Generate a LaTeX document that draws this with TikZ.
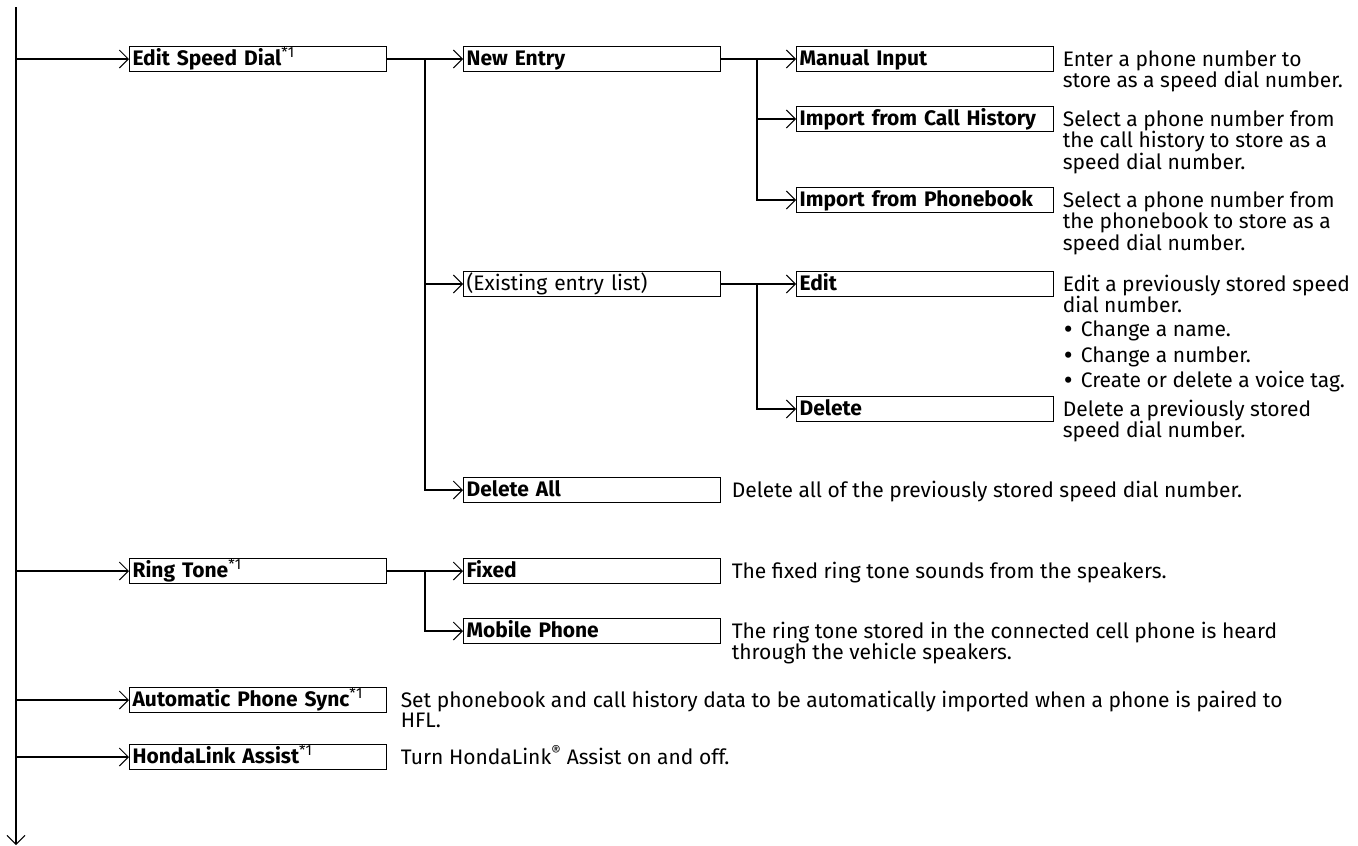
\documentclass[tikz,border=0pt]{standalone}
\usepackage{fontspec}
\setmainfont{Fira Sans}
\usetikzlibrary{arrows.meta}
\newcommand\sone{\textsuperscript{\mdseries *1}}
\newcommand\dtext[1]{\parbox[t]{300pt}{\raggedright #1}}
\newcommand\bul{\makebox[18pt][l]{\hspace{1pt}\smash{\raisebox{-2pt}{\scalebox{1.3}{•}}}}}
\begin{document}
\begin{tikzpicture}[x=1pt,y=-1pt,
  font=\fontsize{21}{20}\selectfont,
  line width=1.6pt,
  link/.style={-{Straight Barb[length=9pt,width=18pt,line width=1pt]}},
  box/.style={draw,line width=1.2pt,anchor=west,minimum width=257pt,minimum height=25pt,
    text width=251pt,align=left,inner xsep=3pt,inner ysep=0pt,text height=15pt,text depth=2pt,
    font=\fontsize{21}{20}\selectfont\bfseries},
  desc/.style={anchor=base west,inner sep=0pt}
]
\useasboundingbox (0,0) rectangle (1358,846);
\coordinate (top) at (16,7);
\coordinate (bot) at (16,845);
\draw[-{Straight Barb[length=9pt,width=18pt,line width=1pt]}] (top) -- (bot);

% level 1 boxes
\node[box] (esd) at (129,59) {Edit Speed Dial\sone};
\node[box] (rt)  at (129,571) {Ring Tone\sone};
\node[box] (aps) at (129,700) {Automatic Phone Sync\sone};
\node[box] (hla) at (129,757) {HondaLink Assist\sone};

% level 2 boxes
\node[box] (ne) at (463,59) {New Entry};
\node[box,font=\fontsize{21}{20}\selectfont] (ex) at (463,284) {(Existing entry list)};
\node[box] (da) at (463,490) {Delete All};
\node[box] (fx) at (463,571) {Fixed};
\node[box] (mp) at (463,631) {Mobile Phone};

% level 3 boxes
\node[box] (mi) at (796,59) {Manual Input};
\node[box] (ich) at (796,119) {Import from Call History};
\node[box] (ipb) at (796,200) {Import from Phonebook};
\node[box] (ed) at (796,284) {Edit};
\node[box] (de) at (796,409) {Delete};

% junctions
\coordinate (j1) at (425,59);
\coordinate (j2) at (757,59);
\coordinate (j3) at (757,284);
\coordinate (j4) at (425,571);

% connectors
\foreach \n in {esd,rt,aps,hla} \draw[link] (top |- \n.west) -- (\n.west);
\draw[link] (esd.east) -- (ne.west);
\draw[link] (j1) |- (ex.west);
\draw[link] (j1) |- (da.west);
\draw[link] (ne.east) -- (mi.west);
\draw[link] (j2) |- (ich.west);
\draw[link] (j2) |- (ipb.west);
\draw[link] (ex.east) -- (ed.west);
\draw[link] (j3) |- (de.west);
\draw[link] (rt.east) -- (fx.west);
\draw[link] (j4) |- (mp.west);

% descriptions
\node[desc] (dmi) at (1062,66) {\dtext{Enter a phone number to\\store as a speed dial number.}};
\node[desc] (dich) at (1062,126) {\dtext{Select a phone number from\\the call history to store as a\\speed dial number.}};
\node[desc] (dipb) at (1062,207) {\dtext{Select a phone number from\\the phonebook to store as a\\speed dial number.}};
\node[desc] (ded) at (1062,291) {\dtext{Edit a previously stored speed\\dial number.\\[4pt]\bul Change a name.\\[4pt]\bul Change a number.\\[4pt]\bul Create or delete a voice tag.}};
\node[desc] (dde) at (1062,416) {\dtext{Delete a previously stored\\speed dial number.}};
\node[desc] (dda) at (731,497) {Delete all of the previously stored speed dial number.};
\node[desc] (dfx) at (731,578) {The fixed ring tone sounds from the speakers.};
\node[desc] (dmp) at (731,638) {\parbox[t]{620pt}{\raggedright The ring tone stored in the connected cell phone is heard\\through the vehicle speakers.}};
\node[desc] (daps) at (400,707) {\parbox[t]{950pt}{\raggedright Set phonebook and call history data to be automatically imported when a phone is paired to\\HFL.}};
\node[desc] (dhla) at (400,764) {Turn HondaLink\textsuperscript{\textregistered} Assist on and off.};
\end{tikzpicture}
\end{document}
